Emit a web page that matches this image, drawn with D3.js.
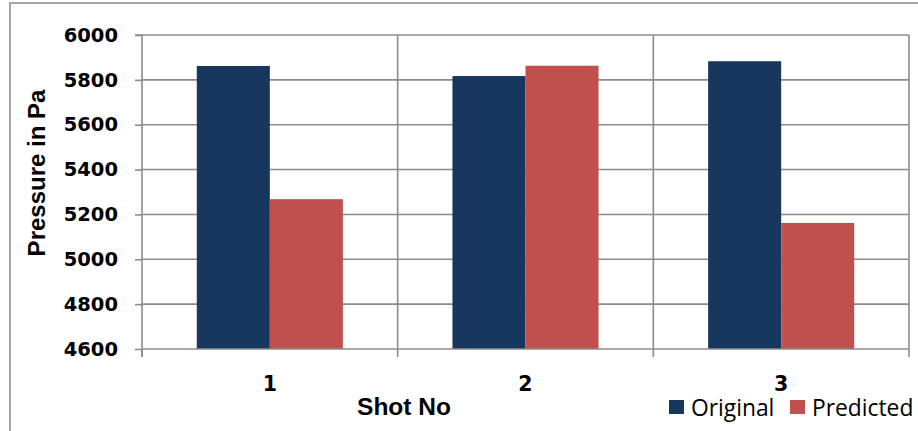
<!DOCTYPE html>
<html>
<head>
<meta charset="utf-8">
<script src="https://cdn.jsdelivr.net/npm/d3@7"></script>
<style>
  html, body { margin: 0; padding: 0; background: #fff; }
  svg { display: block; }
</style>
</head>
<body>
<svg id="chart" width="918" height="431"></svg>
<script>
// Shot-by-shot pressure: measured vs. model output
const shots = ["1", "2", "3"];
const seriesNames = ["Original", "Predicted"];
const original = [5862, 5817, 5883];
const predicted = [5268, 5863, 5162];
const yTicks = [4600, 4800, 5000, 5200, 5400, 5600, 5800, 6000];

const colors = { Original: "#17375E", Predicted: "#C0504D" };
const rows = shots.map((s, i) => ({ shot: s, Original: original[i], Predicted: predicted[i] }));

const svg = d3.select("#chart");
const plot = { left: 142, right: 909, top: 35, bottom: 349 };

// outer chart frame
svg.append("path")
  .attr("d", "M10,431 V3 H918")
  .attr("fill", "none")
  .attr("stroke", "#a6a6a6")
  .attr("stroke-width", 2);

const x0 = d3.scaleBand().domain(shots).range([plot.left, plot.right]).paddingInner(0).paddingOuter(0);
const x1 = d3.scaleBand().domain(seriesNames).range([0, x0.bandwidth()]).paddingInner(0).paddingOuter(0.75);
const y = d3.scaleLinear().domain([4600, 6000]).range([plot.bottom, plot.top]);

const gridColor = "#8c8c8c";

// horizontal gridlines
svg.append("g").selectAll("line").data(yTicks.slice(1)).join("line")
  .attr("x1", plot.left).attr("x2", plot.right)
  .attr("y1", d => y(d)).attr("y2", d => y(d))
  .attr("stroke", gridColor).attr("stroke-width", 1.6);

// vertical gridlines between shots and at the right edge
const bounds = shots.slice(1).map(s => x0(s)).concat([plot.right]);
svg.append("g").selectAll("line").data(bounds).join("line")
  .attr("x1", d => d).attr("x2", d => d)
  .attr("y1", plot.top).attr("y2", plot.bottom)
  .attr("stroke", gridColor).attr("stroke-width", 1.6);

// bars
const groups = svg.append("g").selectAll("g").data(rows).join("g")
  .attr("transform", d => `translate(${x0(d.shot)},0)`);
groups.selectAll("rect")
  .data(d => seriesNames.map(k => ({ key: k, value: d[k] })))
  .join("rect")
  .attr("x", d => x1(d.key))
  .attr("width", x1.bandwidth())
  .attr("y", d => y(d.value))
  .attr("height", d => y(4600) - y(d.value))
  .attr("fill", d => colors[d.key]);

// y axis
const yAxis = d3.axisLeft(y).tickValues(yTicks).tickSize(7).tickPadding(17).tickFormat(d3.format("d"));
const gy = svg.append("g").attr("transform", `translate(${plot.left},0)`).call(yAxis);
gy.select(".domain").attr("stroke", gridColor).attr("stroke-width", 1.6)
  .attr("d", `M-7,${plot.top}H0V${plot.bottom + 8}`);
gy.selectAll(".tick line").attr("stroke", gridColor).attr("stroke-width", 1.6);
gy.selectAll(".tick text")
  .attr("font-family", "'DejaVu Sans', sans-serif")
  .attr("font-weight", "bold")
  .attr("font-size", "19.5px")
  .attr("fill", "#000");

// x axis line with boundary ticks
const gx = svg.append("g");
gx.append("line")
  .attr("x1", plot.left).attr("x2", plot.right)
  .attr("y1", plot.bottom).attr("y2", plot.bottom)
  .attr("stroke", gridColor).attr("stroke-width", 1.6);
gx.selectAll("line.tk").data([plot.left].concat(bounds)).join("line")
  .attr("class", "tk")
  .attr("x1", d => d).attr("x2", d => d)
  .attr("y1", plot.bottom).attr("y2", plot.bottom + 8)
  .attr("stroke", gridColor).attr("stroke-width", 1.6);
gx.selectAll("text").data(shots).join("text")
  .attr("x", d => x0(d) + x0.bandwidth() / 2)
  .attr("y", 391)
  .attr("text-anchor", "middle")
  .attr("font-family", "'DejaVu Sans', sans-serif")
  .attr("font-weight", "bold")
  .attr("font-size", "20.5px")
  .attr("fill", "#000")
  .text(d => d);

// axis titles
svg.append("text")
  .attr("transform", "translate(45,173) rotate(-90)")
  .attr("text-anchor", "middle")
  .attr("font-family", "'Liberation Sans', Arial, sans-serif")
  .attr("font-weight", "bold")
  .attr("font-size", "24px")
  .attr("fill", "#000")
  .text("Pressure in Pa");

svg.append("text")
  .attr("x", 404).attr("y", 415)
  .attr("text-anchor", "middle")
  .attr("font-family", "'Liberation Sans', Arial, sans-serif")
  .attr("font-weight", "bold")
  .attr("font-size", "24.5px")
  .attr("fill", "#000")
  .text("Shot No");

// legend
const legendPos = { Original: 669, Predicted: 790 };
const lg = svg.append("g").selectAll("g").data(seriesNames).join("g")
  .attr("transform", d => `translate(${legendPos[d]},0)`);
lg.append("rect")
  .attr("x", 0).attr("y", 400).attr("width", 15).attr("height", 14)
  .attr("fill", d => colors[d]);
lg.append("text")
  .attr("x", 22).attr("y", 415.5)
  .attr("font-family", "'Open Sans', sans-serif")
  .attr("font-size", "22.8px")
  .attr("fill", "#000")
  .text(d => d);
</script>
</body>
</html>
